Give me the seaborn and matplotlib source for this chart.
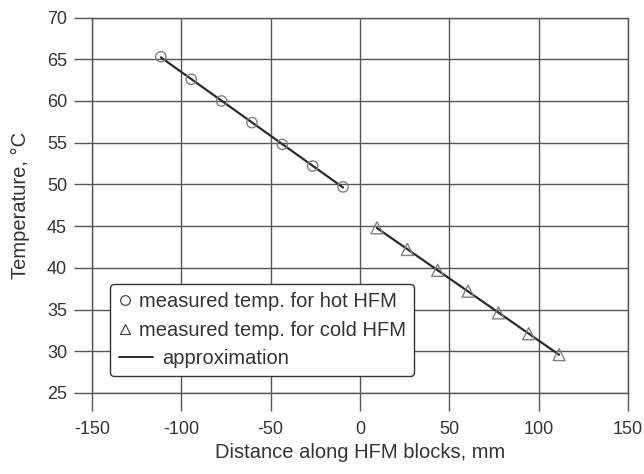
import numpy as np
import pandas as pd
import matplotlib
matplotlib.use("Agg")
import matplotlib.pyplot as plt
from matplotlib.lines import Line2D
from matplotlib.legend_handler import HandlerBase
import seaborn as sns

# measured points
hot_x = [-111.5, -94.5, -77.5, -60.5, -43.5, -26.5, -9.5]
hot_t = [65.3, 62.6, 60.0, 57.4, 54.8, 52.2, 49.7]
cold_x = [9.5, 26.5, 43.5, 60.5, 77.5, 94.5, 111.5]
cold_t = [44.8, 42.2, 39.7, 37.2, 34.6, 32.1, 29.6]

x_ticks = [-150, -100, -50, 0, 50, 100, 150]
y_ticks = [25, 30, 35, 40, 45, 50, 55, 60, 65, 70]

hot = pd.DataFrame({"x": hot_x, "t": hot_t})
cold = pd.DataFrame({"x": cold_x, "t": cold_t})

sns.set_style("ticks")
plt.rcParams["font.family"] = ["Liberation Sans", "DejaVu Sans"]
plt.rcParams["axes.unicode_minus"] = False

fig = plt.figure(figsize=(6.44, 4.74), dpi=100)
ax = fig.add_axes([0.143, 0.171, 0.832, 0.792])

grid_c = "#555555"
line_c = "#2b2b2b"
mark_c = "#808080"
text_c = "#333333"
fs_tick = 13
fs = 14.5

# approximation lines (linear fit of each block)
for d in (hot, cold):
    sns.regplot(data=d, x="x", y="t", scatter=False, ci=None, ax=ax,
                line_kws={"color": line_c, "lw": 1.6, "zorder": 3})

sns.scatterplot(data=hot, x="x", y="t", marker="o", s=55, facecolor="none",
                edgecolor=mark_c, linewidth=1.0, ax=ax, zorder=4)
sns.scatterplot(data=cold, x="x", y="t", marker="^", s=75, facecolor="none",
                edgecolor=mark_c, linewidth=1.0, ax=ax, zorder=4)

ax.set_xlim(-150, 150)
ax.set_ylim(25, 70)
ax.set_xticks(x_ticks)
ax.set_yticks(y_ticks)
ax.grid(True, color=grid_c, lw=1.0)
for s in ax.spines.values():
    s.set_visible(True)
    s.set_color(grid_c)
    s.set_linewidth(1.0)
ax.tick_params(direction="out", length=13, width=1.0, color=grid_c,
               labelsize=fs_tick, labelcolor=text_c)
ax.tick_params(axis="x", pad=7)
ax.tick_params(axis="y", pad=5)

ax.set_xlabel("Distance along HFM blocks, mm", fontsize=fs, color=text_c, labelpad=4)
ax.set_ylabel("Temperature, °C", fontsize=fs, color=text_c, labelpad=12)


class LongLineHandler(HandlerBase):
    # legend line that runs past the short handle box
    def create_artists(self, legend, orig_handle, xdescent, ydescent,
                       width, height, fontsize, trans):
        y = height / 2 - ydescent
        ln = Line2D([-xdescent + 1, -xdescent + width + 15], [y, y],
                    color=orig_handle.get_color(), lw=orig_handle.get_linewidth(),
                    transform=trans)
        return [ln]


approx = Line2D([], [], color=line_c, lw=1.4)
handles = [
    Line2D([], [], ls="none", marker="o", ms=7, mfc="none", mec=text_c, mew=0.8),
    Line2D([], [], ls="none", marker="^", ms=7, mfc="none", mec=text_c, mew=0.8),
    approx,
]
labels = ["measured temp. for hot HFM", "measured temp. for cold HFM", "approximation"]
leg = ax.legend(handles, labels, loc="lower left", bbox_to_anchor=(0.033, 0.045),
                fontsize=fs, frameon=True, fancybox=True, handlelength=0.72,
                handletextpad=0.34, labelspacing=0.46, borderpad=0.4,
                borderaxespad=0, handler_map={approx: LongLineHandler()})
leg.get_frame().set_edgecolor(text_c)
leg.get_frame().set_linewidth(1.0)
leg.get_frame().set_alpha(1)
for t in leg.get_texts():
    t.set_color(text_c)
# push the last label clear of its longer line
leg.get_texts()[2].set_x(23)

fig.savefig("out.png", dpi=100)
